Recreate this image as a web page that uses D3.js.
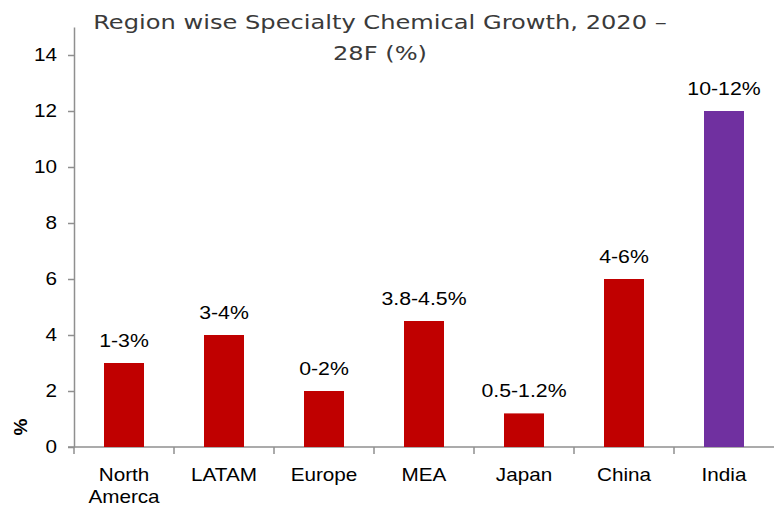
<!DOCTYPE html>
<html>
<head>
<meta charset="utf-8">
<script src="https://cdn.jsdelivr.net/npm/d3@7"></script>
<style>
  body { margin: 0; background: #fff; }
  text { font-family: "Liberation Sans", Arial, sans-serif; fill: #000; }
  .title { font-family: "DejaVu Sans", sans-serif; fill: #3a3a3a; }
  .axis path, .axis line { stroke: #8f8f8f; stroke-width: 1.5; }
</style>
</head>
<body>
<script>
const regions = ['North Amerca', 'LATAM', 'Europe', 'MEA', 'Japan', 'China', 'India'];
const growth = [3, 4, 2, 4.5, 1.2, 6, 12];
const rangeLabels = ['1-3%', '3-4%', '0-2%', '3.8-4.5%', '0.5-1.2%', '4-6%', '10-12%'];
const yTicks = [0, 2, 4, 6, 8, 10, 12, 14];
const titleLines = ['Region wise Specialty Chemical Growth, 2020 \u2013', '28F (%)'];

const width = 774, height = 508;
const margin = {top: 27, right: 0, bottom: 61, left: 74};
const stretch = 1.15; // the source text is a bit wide

const svg = d3.select('body')
  .append('svg')
  .attr('width', width)
  .attr('height', height);

const x = d3.scaleBand()
  .domain(regions)
  .range([margin.left, width - margin.right])
  .paddingInner(0.6)
  .paddingOuter(0.3);

const y = d3.scaleLinear()
  .domain([0, 15])
  .range([height - margin.bottom, margin.top]);

function wideText(sel, px, py) {
  sel.attr('transform', (d, i) => `translate(${px(d, i)},${py(d, i)}) scale(${stretch},1)`);
}

// title, fitted to the width of the original
const title = svg.append('g')
  .selectAll('text')
  .data(titleLines)
  .join('text')
  .attr('class', 'title')
  .attr('text-anchor', 'middle')
  .style('font-size', '20px')
  .text(d => d);
const titleW = title.nodes()[0].getComputedTextLength();
const titleScale = 574 / titleW;
title.attr('transform', (d, i) => `translate(380,${29 + i * 31}) scale(${titleScale},1)`);

// y axis
const yAxis = svg.append('g')
  .attr('class', 'axis')
  .attr('transform', `translate(${margin.left},0)`)
  .call(d3.axisLeft(y).tickValues(yTicks).tickSize(6).tickPadding(11).tickSizeOuter(0));
yAxis.selectAll('text')
  .style('font-size', '18px')
  .style('fill', '#000')
  .attr('x', -17 / stretch)
  .attr('transform', `scale(${stretch},1)`);

// x axis, ticks at band edges
const xAxis = svg.append('g')
  .attr('class', 'axis')
  .attr('transform', `translate(0,${y(0)})`);
xAxis.append('line')
  .attr('x1', margin.left - 6)
  .attr('x2', width)
  .attr('y1', 0)
  .attr('y2', 0);
xAxis.selectAll('.edge')
  .data(regions)
  .join('line')
  .attr('class', 'edge')
  .attr('x1', d => x(d) + x.bandwidth() / 2 - x.step() / 2)
  .attr('x2', d => x(d) + x.bandwidth() / 2 - x.step() / 2)
  .attr('y1', 0)
  .attr('y2', 7);

// category labels
const cat = svg.append('g')
  .selectAll('text')
  .data(regions)
  .join('text')
  .attr('text-anchor', 'middle')
  .style('font-size', '18px')
  .call(wideText, d => x(d) + x.bandwidth() / 2, () => 481);
cat.each(function(d) {
  const words = d === 'North Amerca' ? ['North', 'Amerca'] : [d];
  d3.select(this).selectAll('tspan')
    .data(words)
    .join('tspan')
    .attr('x', 0)
    .attr('dy', (w, i) => i === 0 ? 0 : 22)
    .text(w => w);
});

// bars
svg.append('g')
  .selectAll('rect')
  .data(regions)
  .join('rect')
  .attr('x', d => x(d))
  .attr('y', (d, i) => y(growth[i]))
  .attr('width', x.bandwidth())
  .attr('height', (d, i) => y(0) - y(growth[i]))
  .attr('fill', d => d === 'India' ? '#7030a0' : '#c00000');

// data labels
svg.append('g')
  .selectAll('text')
  .data(regions)
  .join('text')
  .attr('text-anchor', 'middle')
  .style('font-size', '18.5px')
  .call(wideText, d => x(d) + x.bandwidth() / 2, (d, i) => y(growth[i]) - 16)
  .text((d, i) => rangeLabels[i]);

// y label
svg.append('text')
  .attr('transform', 'translate(27,427) rotate(-90)')
  .attr('text-anchor', 'middle')
  .style('font-size', '19px')
  .style('font-weight', 'bold')
  .text('%');
</script>
</body>
</html>
